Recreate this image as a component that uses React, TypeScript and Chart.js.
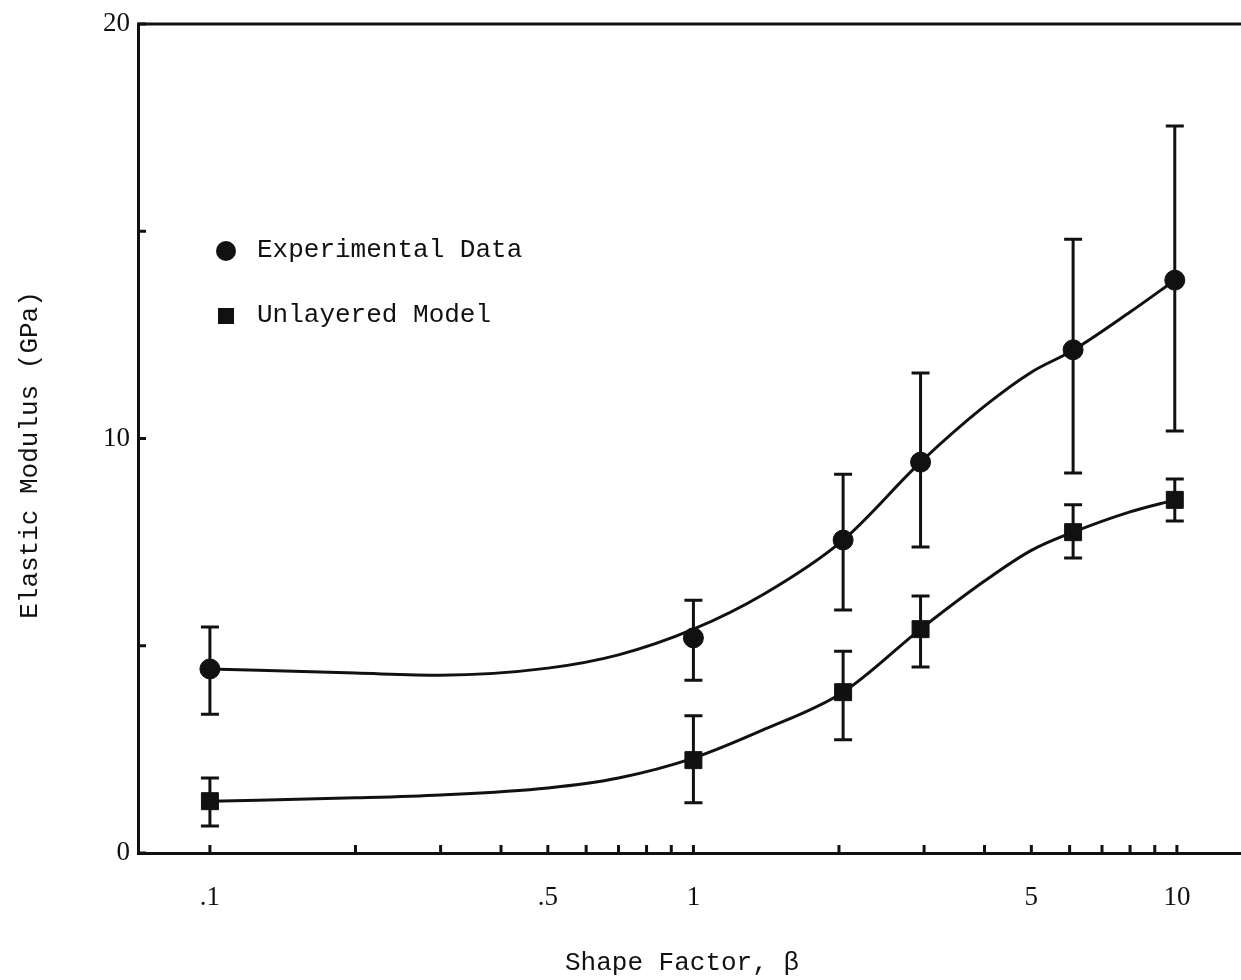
import React, { useEffect, useRef } from 'react';
import { Chart, registerables } from 'chart.js';

Chart.register(...registerables);

// Measured points (shape factor β vs elastic modulus, GPa)
const xPoints = [0.1, 1.0, 2.04, 2.95, 6.1, 9.9];
const expValues = [4.44, 5.19, 7.55, 9.43, 12.14, 13.82];
const expHigh = [5.45, 6.1, 9.14, 11.58, 14.81, 17.54];
const expLow = [3.35, 4.17, 5.86, 7.38, 9.17, 10.18];
const modelValues = [1.25, 2.24, 3.88, 5.4, 7.74, 8.52];
const modelHigh = [1.81, 3.31, 4.87, 6.2, 8.4, 9.02];
const modelLow = [0.65, 1.21, 2.73, 4.49, 7.12, 8.01];

// Smooth fitted curves
const curveX = [0.1, 0.2, 0.3, 0.5, 0.7, 1.0, 1.4, 2.04, 2.95, 4, 5, 6.1, 8, 9.9];
const expCurve = [4.44, 4.34, 4.29, 4.46, 4.78, 5.4, 6.25, 7.55, 9.43, 10.78, 11.6, 12.13, 13.05, 13.82];
const modelCurve = [1.25, 1.33, 1.4, 1.57, 1.81, 2.29, 2.98, 3.88, 5.4, 6.56, 7.3, 7.74, 8.23, 8.52];

// Axis ticks
const xTickValues = [0.1, 0.2, 0.3, 0.4, 0.5, 0.6, 0.7, 0.8, 0.9, 1, 2, 3, 4, 5, 6, 7, 8, 9, 10];
const xTickLabels: Record<string, string> = { '0.1': '.1', '0.5': '.5', '1': '1', '5': '5', '10': '10' };
const yTickValues = [0, 5, 10, 15, 20];
const yTickLabels: Record<string, string> = { '0': '0', '10': '10', '20': '20' };

const legendItems = ['Experimental Data', 'Unlayered Model'];
const xTitle = 'Shape Factor, \u03B2';
const yTitle = 'Elastic Modulus (GPa)';

const INK = '#111';
const MONO = '"Liberation Mono", "DejaVu Sans Mono", monospace';
const SERIF = '"Liberation Serif", "DejaVu Serif", serif';

const decorPlugin = {
  id: 'decor',
  beforeDraw(chart: any) {
    const { ctx, width, height } = chart;
    ctx.save();
    ctx.fillStyle = '#fff';
    ctx.fillRect(0, 0, width, height);
    ctx.restore();
  },
  afterDatasetsDraw(chart: any) {
    const { ctx, chartArea } = chart;
    const xs = chart.scales.x;
    const ys = chart.scales.y;
    ctx.save();
    ctx.strokeStyle = INK;
    ctx.fillStyle = INK;
    ctx.lineCap = 'butt';

    // top frame line
    ctx.lineWidth = 3;
    ctx.beginPath();
    ctx.moveTo(chartArea.left - 1, chartArea.top);
    ctx.lineTo(chartArea.right, chartArea.top);
    ctx.stroke();

    // inward x ticks
    ctx.lineWidth = 3;
    xTickValues.forEach((v) => {
      const px = xs.getPixelForValue(v);
      ctx.beginPath();
      ctx.moveTo(px, chartArea.bottom);
      ctx.lineTo(px, chartArea.bottom - 8);
      ctx.stroke();
    });
    // inward y ticks
    yTickValues.forEach((v) => {
      const py = ys.getPixelForValue(v);
      ctx.beginPath();
      ctx.moveTo(chartArea.left, py);
      ctx.lineTo(chartArea.left + 8, py);
      ctx.stroke();
    });

    // error bars
    const drawBars = (lo: number[], hi: number[], cap: number) => {
      xPoints.forEach((x, i) => {
        const px = xs.getPixelForValue(x);
        const pLo = ys.getPixelForValue(lo[i]);
        const pHi = ys.getPixelForValue(hi[i]);
        ctx.lineWidth = 3;
        ctx.beginPath();
        ctx.moveTo(px, pLo);
        ctx.lineTo(px, pHi);
        ctx.stroke();
        ctx.beginPath();
        ctx.moveTo(px - cap / 2, pLo);
        ctx.lineTo(px + cap / 2, pLo);
        ctx.moveTo(px - cap / 2, pHi);
        ctx.lineTo(px + cap / 2, pHi);
        ctx.stroke();
      });
    };
    drawBars(expLow, expHigh, 18);
    drawBars(modelLow, modelHigh, 18);

    // legend
    ctx.font = `26px ${MONO}`;
    ctx.textBaseline = 'middle';
    ctx.textAlign = 'left';
    ctx.beginPath();
    ctx.arc(226, 251, 10, 0, Math.PI * 2);
    ctx.fill();
    ctx.fillText(legendItems[0], 257, 250);
    ctx.fillRect(218, 308, 16, 16);
    ctx.fillText(legendItems[1], 257, 315);

    // axis titles
    ctx.textAlign = 'center';
    ctx.fillText(xTitle, 682, 963);
    ctx.save();
    ctx.translate(30, 455);
    ctx.rotate(-Math.PI / 2);
    ctx.fillText(yTitle, 0, 0);
    ctx.restore();

    ctx.restore();
  },
};

export default function App() {
  const canvasRef = useRef<HTMLCanvasElement>(null);

  useEffect(() => {
    document.body.style.margin = '0';
    const canvas = canvasRef.current;
    if (!canvas) return;
    const chart = new Chart(canvas, {
      type: 'scatter',
      data: {
        datasets: [
          {
            label: 'Experimental fit',
            data: curveX.map((x, i) => ({ x, y: expCurve[i] })),
            showLine: true,
            borderColor: INK,
            borderWidth: 3,
            pointRadius: 0,
            cubicInterpolationMode: 'monotone',
          },
          {
            label: 'Unlayered fit',
            data: curveX.map((x, i) => ({ x, y: modelCurve[i] })),
            showLine: true,
            borderColor: INK,
            borderWidth: 3,
            pointRadius: 0,
            cubicInterpolationMode: 'monotone',
          },
          {
            label: legendItems[0],
            data: xPoints.map((x, i) => ({ x, y: expValues[i] })),
            showLine: false,
            pointStyle: 'circle',
            pointRadius: 10,
            backgroundColor: INK,
            borderColor: INK,
            borderWidth: 1,
          },
          {
            label: legendItems[1],
            data: xPoints.map((x, i) => ({ x, y: modelValues[i] })),
            showLine: false,
            pointStyle: 'rect',
            pointRadius: 12,
            backgroundColor: INK,
            borderColor: INK,
            borderWidth: 1,
          },
        ],
      },
      options: {
        responsive: false,
        animation: false,
        events: [],
        layout: { autoPadding: false, padding: { top: 24, left: 0, right: 0, bottom: 0 } },
        plugins: {
          legend: { display: false },
          tooltip: { enabled: false },
          title: { display: false },
        },
        scales: {
          x: {
            type: 'logarithmic',
            min: 0.071,
            max: 13.57,
            afterBuildTicks: (scale: any) => {
              scale.ticks = xTickValues.map((v) => ({ value: v }));
            },
            afterFit: (scale: any) => {
              scale.height = 127;
              scale.paddingLeft = 0;
              scale.paddingRight = 0;
            },
            grid: { display: true, drawOnChartArea: false, drawTicks: false },
            border: { display: true, color: INK, width: 3 },
            ticks: {
              autoSkip: false,
              maxRotation: 0,
              minRotation: 0,
              padding: 29,
              color: INK,
              font: { family: SERIF, size: 27 },
              callback: (v: any) => xTickLabels[String(Number(v))] ?? '',
            },
          },
          y: {
            type: 'linear',
            min: 0,
            max: 20,
            afterBuildTicks: (scale: any) => {
              scale.ticks = yTickValues.map((v) => ({ value: v }));
            },
            afterFit: (scale: any) => {
              scale.width = 138;
              scale.paddingTop = 0;
              scale.paddingBottom = 0;
            },
            grid: { display: true, drawOnChartArea: false, drawTicks: false },
            border: { display: true, color: INK, width: 3 },
            ticks: {
              padding: 8,
              color: INK,
              font: { family: SERIF, size: 27 },
              callback: (v: any) => yTickLabels[String(Number(v))] ?? '',
            },
          },
        },
      },
      plugins: [decorPlugin],
    } as any);
    return () => chart.destroy();
  }, []);

  return (
    <div style={{ position: 'absolute', left: 0, top: 0, width: 1241, height: 980 }}>
      <canvas ref={canvasRef} width={1241} height={980} style={{ width: 1241, height: 980, display: 'block' }} />
    </div>
  );
}
